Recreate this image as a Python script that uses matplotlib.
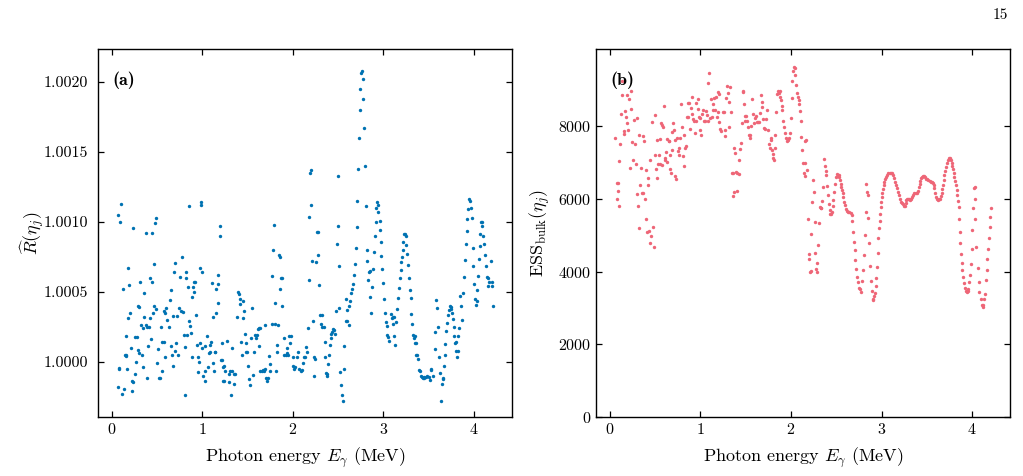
import numpy as np
import matplotlib
matplotlib.use("Agg")
import matplotlib.pyplot as plt
from matplotlib.ticker import FormatStrFormatter

plt.rcParams['font.family'] = 'serif'
plt.rcParams['font.serif'] = ['cmr10']
plt.rcParams['mathtext.fontset'] = 'cm'
plt.rcParams['axes.formatter.use_mathtext'] = True

# (a) R-hat per energy bin
E_a = [0.066, 0.073, 0.08, 0.083, 0.095, 0.106, 0.114, 0.125, 0.132, 0.15, 0.154, 0.158, 0.162, 0.168,
       0.176, 0.18, 0.19, 0.2, 0.21, 0.22, 0.228, 0.234, 0.238, 0.255, 0.26, 0.27, 0.278, 0.29, 0.292,
       0.3, 0.305, 0.31, 0.325, 0.33, 0.34, 0.35, 0.355, 0.36, 0.374, 0.38, 0.385, 0.39, 0.4, 0.41,
       0.42, 0.425, 0.43, 0.44, 0.45, 0.46, 0.465, 0.47, 0.48, 0.487, 0.494, 0.505, 0.516, 0.525,
       0.532, 0.54, 0.55, 0.557, 0.575, 0.578, 0.586, 0.59, 0.6, 0.615, 0.63, 0.64, 0.65, 0.652,
       0.663, 0.674, 0.68, 0.69, 0.696, 0.7, 0.712, 0.72, 0.736, 0.747, 0.758, 0.762, 0.776, 0.784,
       0.795, 0.806, 0.81, 0.817, 0.824, 0.835, 0.842, 0.85, 0.857, 0.868, 0.875, 0.883, 0.89, 0.9,
       0.905, 0.912, 0.923, 0.93, 0.938, 0.949, 0.957, 0.963, 0.97, 0.978, 0.985, 0.99, 0.995, 0.998,
       1.01, 1.026, 1.03, 1.035, 1.05, 1.06, 1.07, 1.08, 1.088, 1.095, 1.11, 1.12, 1.122, 1.132,
       1.135, 1.145, 1.148, 1.156, 1.17, 1.172, 1.176, 1.19, 1.2, 1.207, 1.214, 1.216, 1.225, 1.232,
       1.236, 1.245, 1.256, 1.27, 1.29, 1.3, 1.307, 1.315, 1.33, 1.332, 1.345, 1.355, 1.362, 1.38,
       1.392, 1.406, 1.413, 1.42, 1.422, 1.435, 1.446, 1.453, 1.46, 1.472, 1.48, 1.487, 1.498, 1.509,
       1.516, 1.527, 1.535, 1.546, 1.556, 1.567, 1.578, 1.59, 1.6, 1.612, 1.623, 1.63, 1.634, 1.64,
       1.656, 1.667, 1.678, 1.69, 1.696, 1.707, 1.718, 1.729, 1.733, 1.744, 1.751, 1.765, 1.77, 1.78,
       1.79, 1.8, 1.803, 1.81, 1.82, 1.83, 1.835, 1.846, 1.853, 1.86, 1.868, 1.875, 1.88, 1.9, 1.905,
       1.92, 1.93, 1.94, 1.95, 1.96, 1.97, 1.978,
       2.0, 2.004, 2.015, 2.025, 2.044, 2.055, 2.066, 2.085, 2.1, 2.11, 2.12, 2.136, 2.147, 2.158,
       2.17, 2.173, 2.18, 2.188, 2.195, 2.2, 2.21, 2.22, 2.232, 2.236, 2.242, 2.257, 2.268, 2.275,
       2.283, 2.29, 2.302, 2.308, 2.32, 2.324, 2.34, 2.35, 2.36, 2.368, 2.375, 2.379, 2.39, 2.4,
       2.408, 2.419, 2.426, 2.434, 2.445, 2.456, 2.463, 2.478, 2.485, 2.493, 2.5, 2.511, 2.515, 2.526,
       2.533, 2.544, 2.551, 2.562, 2.57, 2.585, 2.592, 2.6, 2.603, 2.618, 2.625, 2.636, 2.643, 2.65,
       2.662, 2.673, 2.688, 2.695, 2.706, 2.713, 2.72, 2.728, 2.739, 2.746, 2.757, 2.765, 2.772, 2.779,
       2.79, 2.798, 2.805, 2.816, 2.824, 2.835, 2.838, 2.849, 2.857, 2.86, 2.875, 2.882, 2.893, 2.904,
       2.915, 2.922, 2.93, 2.937, 2.945, 2.96, 2.967, 2.974, 2.978, 2.985, 2.996, 3.007, 3.015, 3.026,
       3.037, 3.044, 3.055, 3.066, 3.081, 3.096, 3.103, 3.11, 3.118, 3.121, 3.13, 3.137, 3.15, 3.165,
       3.173, 3.184, 3.191, 3.199, 3.206, 3.217, 3.22, 3.228, 3.235, 3.246, 3.254, 3.261, 3.276, 3.283,
       3.294, 3.301, 3.309, 3.32, 3.327, 3.338, 3.346, 3.35, 3.357, 3.364, 3.375, 3.386, 3.397, 3.404,
       3.415, 3.423, 3.434, 3.445, 3.452, 3.467, 3.482, 3.5, 3.511, 3.522, 3.53, 3.548, 3.566, 3.574,
       3.585, 3.595, 3.603, 3.614, 3.621, 3.636, 3.643, 3.654, 3.66, 3.665, 3.676, 3.684, 3.695, 3.702,
       3.709, 3.72, 3.731, 3.742, 3.75, 3.757, 3.765, 3.776, 3.779, 3.787, 3.798, 3.805, 3.816, 3.82,
       3.827, 3.838, 3.849, 3.86, 3.87, 3.879, 3.89, 3.901, 3.908, 3.919, 3.926, 3.938, 3.948, 3.955,
       3.963, 3.974, 3.985, 3.993, 4.004, 4.011, 4.022, 4.03, 4.037, 4.048, 4.055, 4.066, 4.07, 4.081,
       4.088, 4.092, 4.103, 4.114, 4.125, 4.136, 4.147, 4.151, 4.158, 4.162, 4.184, 4.195, 4.2, 4.21]
R_a = [1.00105, 0.999815, 0.99995, 0.999955, 1.00100, 1.00113, 0.99977, 1.00052, 0.99980, 1.00005,
       1.00018, 1.00004, 1.00005, 0.999945, 1.00067, 1.00031, 1.00055, 1.00035, 1.000095, 0.99979,
       0.99986, 1.000955, 0.99985, 1.000175, 0.99991, 1.00000, 1.000175, 1.00040, 1.000085, 1.00039,
       1.00006, 1.00057, 1.00026, 1.00005, 1.00024, 0.99996, 1.00049, 1.00032, 1.00092, 1.00026,
       1.00025, 0.99988, 1.00011, 1.00025, 1.00060, 1.00031, 1.00016, 1.00092, 1.00057, 1.00035,
       1.00070, 1.00040, 1.00099, 1.00103, 1.000375, 0.99999, 1.00009, 0.99988, 0.99988, 1.00025,
       0.99993, 1.00014, 1.00014, 1.00036, 1.00003, 1.00035, 1.00038, 1.00030, 1.00025, 1.00044,
       1.00051, 1.00011, 1.00005, 1.000325, 0.999965, 1.00064, 1.000705, 1.000075, 1.000135, 1.000325,
       1.00005, 1.00038, 1.000605, 1.00036, 1.00075, 1.000355, 1.00019, 0.99976, 1.000105, 1.00060,
       1.00064, 1.00019, 1.000535, 1.00111, 1.00029, 1.000255, 1.000205, 1.000033, 1.00046, 1.00053,
       1.00050, 1.00057, 1.00057, 1.00033, 1.00012, 0.999925, 1.00003, 1.00000, 1.00013, 1.00067,
       1.00114, 1.00112, 1.00064, 1.00010, 0.99990, 0.99986, 1.00011, 0.99993, 1.00018, 0.99996,
       1.00006, 1.00007, 1.00012, 1.00014, 1.00056, 1.00032, 0.99999, 0.99993, 1.00007, 1.00007,
       1.000345, 1.00052, 1.000555, 1.00042, 1.00062, 1.00090, 1.00097, 1.00001, 1.00001, 1.000135,
       0.99996, 0.99986, 0.99997, 0.99986, 0.99993, 1.00015, 0.99991, 0.99985, 0.99993, 0.99976,
       0.99993, 1.00010, 0.99991, 0.99984, 0.99991, 1.00032, 1.00050, 1.00048, 1.00045, 1.00041,
       1.00014, 1.00005, 1.00043, 1.00031, 1.00036, 1.00020, 1.00013, 1.00007, 1.00007, 0.99997,
       0.999875, 0.99983, 1.000165, 1.000385, 0.999905, 1.000065, 1.00019, 1.000165, 1.00019, 1.00023,
       1.00024, 1.00011, 1.00024, 0.99993, 0.99993, 0.99994, 0.99993, 1.00026, 0.99995, 0.99988,
       0.99986, 0.99988, 1.00004, 0.99998, 0.99993, 1.00027, 1.00061, 1.00080, 1.000975, 1.00042,
       1.00027, 0.99993, 1.00012, 1.00007, 1.00026, 1.00076, 1.00075, 1.00052, 1.00060, 1.00060,
       1.00040, 1.000165, 1.00005, 1.00005, 1.00010, 1.00006, 1.00005, 1.00018, 1.00013, 1.00018,
       1.00003, 0.99997, 0.999945, 0.99996, 1.000035, 1.000065, 0.999945, 0.999935, 0.99994, 0.99999,
       1.00003, 1.000033, 1.000107, 1.00007, 1.00024, 1.00058, 1.001035, 1.00135, 1.00137, 1.00112,
       1.00072, 1.00029, 1.00003, 0.99990, 1.00002, 1.000715, 1.000925, 1.000925, 1.000765, 1.000545,
       1.000335, 1.00027, 1.00025, 1.000335, 1.000245, 1.00014, 1.00003, 0.99992, 0.99990, 0.99991,
       0.999985, 1.00005, 1.000115, 1.00017, 1.000195, 1.00021, 1.00023, 1.000225, 1.00020, 1.00036,
       1.00084, 1.00097, 1.00133, 1.000685, 1.00038, 0.999925, 0.999835, 0.99976, 0.99972, 0.99995,
       1.00011, 1.00045, 1.00029, 1.00037, 1.00029, 1.00026, 1.000395, 1.000435, 1.00049, 1.00052,
       1.000555, 1.00062, 1.00070, 1.00081, 1.00096, 1.00115, 1.00138, 1.00160, 1.00180, 1.00195,
       1.00206, 1.00208, 1.00202, 1.00188, 1.00167, 1.00140, 1.00111, 1.00080, 1.00072, 1.000585,
       1.00064, 1.00065, 1.00046, 1.000345, 1.00053, 1.00066, 1.000785, 1.00090, 1.00100, 1.001095,
       1.00114, 1.00112, 1.00107, 1.001005, 1.00094, 1.000855, 1.000755, 1.00066, 1.00056, 1.00045,
       1.00035, 1.00028, 1.000255, 1.00019, 1.000175, 1.00015, 1.00034, 1.00031, 1.000265, 1.000315,
       1.00032, 1.000185, 1.00012, 1.000285, 1.000375, 1.000455, 1.000525, 1.000600, 1.000655, 1.00071,
       1.00075, 1.00080, 1.000855, 1.00091, 1.00091, 1.00090, 1.000835, 1.00077, 1.00069, 1.00060,
       1.00051, 1.000455, 1.00034, 1.00027, 1.00019, 1.00017, 1.00018, 1.00013, 1.00013, 1.00005,
       1.00005, 1.00002, 0.99994, 0.99993, 0.99990, 0.99989, 0.99988, 0.99988, 0.99989, 0.99989,
       0.99990, 0.99989, 0.99987, 0.99994, 0.99995, 0.99990, 1.00009, 1.00021, 1.00044, 1.000385,
       1.000245, 1.000035, 0.999915, 0.99972, 0.99984, 0.999875, 0.99988, 0.999965, 1.00005, 1.000125,
       1.000215, 1.000275, 1.00033, 1.00037, 1.000395, 1.00039, 1.000375, 1.00035, 1.000305, 1.000245,
       1.000185, 1.00013, 1.00014, 1.000075, 1.00003, 1.000075, 1.000185, 1.00024, 1.00047, 1.000395,
       1.00030, 1.00049, 1.000605, 1.000725, 1.00084, 1.000935, 1.00102, 1.00109, 1.00116, 1.00115,
       1.00110, 1.00103, 1.00081, 1.000685, 1.000555, 1.00045, 1.000405, 1.00043, 1.00051, 1.000615,
       1.00073, 1.000825, 1.000915, 1.00100, 1.000995, 1.00097, 1.00090, 1.00084, 1.00076, 1.00068,
       1.000605, 1.00054, 1.000595, 1.00057, 1.00072, 1.00057, 1.00054, 1.00040]

# (b) bulk ESS per energy bin
E_b = [0.055, 0.074, 0.08, 0.085, 0.088, 0.096, 0.103, 0.114, 0.12, 0.13, 0.136, 0.155, 0.158, 0.166,
       0.177, 0.184, 0.19, 0.2, 0.206, 0.217, 0.228, 0.236, 0.247, 0.254, 0.265, 0.273, 0.287, 0.3,
       0.302, 0.313, 0.32, 0.324, 0.335, 0.343, 0.35, 0.36, 0.368, 0.372, 0.383, 0.394, 0.4, 0.41,
       0.416, 0.423, 0.43, 0.438, 0.445, 0.452, 0.464, 0.471, 0.482, 0.494, 0.497, 0.508, 0.516, 0.52,
       0.53, 0.54, 0.55, 0.557, 0.567, 0.575, 0.578, 0.59, 0.6, 0.603, 0.61, 0.622, 0.633, 0.634,
       0.648, 0.656, 0.66, 0.667, 0.674, 0.68, 0.69, 0.696, 0.703, 0.714, 0.722, 0.733, 0.744, 0.751,
       0.759, 0.766, 0.773, 0.785, 0.8, 0.806, 0.814, 0.82, 0.832, 0.843, 0.85, 0.862, 0.866, 0.876,
       0.888, 0.895, 0.902, 0.91, 0.917, 0.928, 0.94, 0.947, 0.954, 0.969, 0.976, 0.983, 0.99, 1.0,
       1.01, 1.02, 1.031, 1.039, 1.05, 1.057, 1.068, 1.079, 1.087, 1.098, 1.109, 1.116, 1.123, 1.134,
       1.142, 1.153, 1.164, 1.168, 1.182, 1.19, 1.197, 1.2, 1.208, 1.219, 1.23, 1.245, 1.256, 1.267,
       1.274, 1.282, 1.293, 1.304, 1.315, 1.319, 1.326, 1.337, 1.344, 1.355, 1.359, 1.366, 1.37, 1.38,
       1.388, 1.403, 1.407, 1.421, 1.429, 1.44, 1.447, 1.458, 1.466, 1.473, 1.477, 1.488, 1.495, 1.499,
       1.51, 1.521, 1.532, 1.543, 1.55, 1.561, 1.569, 1.576, 1.587, 1.602, 1.613, 1.624, 1.635, 1.646,
       1.653, 1.668, 1.675, 1.683, 1.69, 1.7, 1.712, 1.723, 1.734, 1.745, 1.753, 1.764, 1.775, 1.782,
       1.79, 1.797, 1.804, 1.811, 1.819, 1.826, 1.838, 1.845, 1.856, 1.867, 1.875, 1.882, 1.889, 1.897,
       1.904, 1.915, 1.922, 1.93, 1.945, 1.956, 1.967, 1.978, 1.989, 2.0, 2.007, 2.015, 2.026, 2.033,
       2.04, 2.048, 2.059, 2.07, 2.077, 2.085, 2.092, 2.1, 2.107, 2.114, 2.125, 2.129, 2.14, 2.151,
       2.154, 2.158, 2.169, 2.18, 2.188, 2.195, 2.203, 2.21, 2.217, 2.221, 2.232, 2.239, 2.25, 2.262,
       2.269, 2.28, 2.287, 2.291, 2.298, 2.309, 2.317, 2.328, 2.335, 2.343, 2.35, 2.361, 2.372, 2.383,
       2.39, 2.401, 2.409, 2.416, 2.427, 2.435, 2.446, 2.457, 2.464, 2.468, 2.475, 2.483, 2.494, 2.505,
       2.516, 2.527, 2.534, 2.541, 2.549, 2.556, 2.564, 2.571, 2.578, 2.586, 2.593, 2.608, 2.619, 2.634,
       2.645, 2.659, 2.67, 2.678, 2.685, 2.696, 2.703, 2.711, 2.722, 2.729, 2.74, 2.751, 2.759, 2.77,
       2.788, 2.796, 2.803, 2.814, 2.825, 2.832, 2.84, 2.847, 2.851, 2.862, 2.869, 2.88, 2.891, 2.902,
       2.91, 2.913, 2.924, 2.936, 2.943, 2.95, 2.958, 2.965, 2.972, 2.98, 2.987, 2.991, 2.998, 3.002,
       3.009, 3.017, 3.024, 3.031, 3.042, 3.053, 3.064, 3.075, 3.09, 3.101, 3.112, 3.123, 3.134, 3.148,
       3.159, 3.17, 3.181, 3.192, 3.203, 3.214, 3.225, 3.236, 3.247, 3.258, 3.266, 3.273, 3.284, 3.295,
       3.306, 3.317, 3.328, 3.339, 3.351, 3.362, 3.376, 3.391, 3.402, 3.413, 3.421, 3.428, 3.439, 3.45,
       3.461, 3.472, 3.483, 3.494, 3.506, 3.517, 3.531, 3.546, 3.557, 3.568, 3.576, 3.583, 3.594, 3.605,
       3.616, 3.627, 3.638, 3.649, 3.657, 3.664, 3.672, 3.679, 3.686, 3.694, 3.701, 3.708, 3.72, 3.731,
       3.742, 3.753, 3.76, 3.768, 3.775, 3.782, 3.79, 3.797, 3.804, 3.812, 3.819, 3.827, 3.834, 3.841,
       3.849, 3.856, 3.863, 3.871, 3.878, 3.886, 3.893, 3.9, 3.908, 3.919, 3.93, 3.941, 3.952, 3.959,
       3.97, 3.978, 3.985, 3.993, 4.0, 4.007, 4.015, 4.026, 4.029, 4.033, 4.044, 4.059, 4.07, 4.077,
       4.092, 4.103, 4.114, 4.125, 4.133, 4.14, 4.151, 4.162, 4.169, 4.18, 4.188, 4.192, 4.199, 4.206]
ESS_b = [7660, 5980, 6430, 6430, 6220, 7030, 5810, 7500, 8330, 8850, 9210, 7850, 7770, 8390,
         8240, 8080, 8850, 7880, 8740, 6850, 8460, 8960, 7540, 7070, 8160, 7510, 6960, 6120,
         8220, 5800, 7750, 5190, 6360, 6840, 6160, 7720, 6160, 7570, 6000, 5440, 6770, 5080,
         6570, 6380, 5100, 7050, 4770, 4970, 8100, 5220, 4680, 7200, 8300, 6810, 7610, 6560,
         6940, 7200, 6940, 7630, 8080, 8030, 6930, 7960, 8550, 7070, 7100, 7270, 6990, 7620,
         7570, 7590, 7190, 6820, 6690, 7340, 7830, 8080, 7890, 7600, 6620, 6540, 7660, 7300,
         7390, 7190, 7660, 8590, 7970, 7180, 6890, 7730, 7400, 7430, 8230, 8240, 8610, 8630,
         7910, 8480, 8790, 8310, 8190, 8120, 7790, 8120, 8610, 8450, 8720, 8250, 8200, 7870,
         7740, 8330, 8440, 8120, 8120, 8390, 8290, 8120, 9160, 9450, 8210, 8720, 8250, 8590,
         8440, 8750, 8420, 8780, 8230, 8930, 8380, 8880, 8100, 7920, 7840, 8360, 8380, 7710,
         7870, 8770, 9090, 8900, 8650, 7960, 9060, 8380, 6710, 6080, 6700, 6190, 7400, 7240,
         6740, 6690, 6200, 6670, 7060, 7360, 7520, 8070, 8910, 8950, 8600, 8260, 8130, 8260,
         8130, 7970, 7750, 7660, 7750, 7980, 8730, 8310, 8060, 8220, 8270, 8090, 8090, 8090,
         8340, 8840, 8650, 8510, 8170, 7940, 7900, 8190, 8420, 7880, 7490, 7390, 7600, 7660,
         7330, 7230, 7100, 7050, 7380, 7730, 8380, 8860, 8950, 8890, 8960, 8780, 8690, 8540,
         8430, 8130, 7960, 7800, 7670, 7570, 7600, 7660, 7810, 8220, 8750, 9210, 9510, 9600,
         9580, 9390, 9120, 8900, 8780, 8690, 8590, 8400, 8120, 7700, 7320, 6970, 6710, 6970,
         6610, 7570, 7600, 6770, 5440, 4470, 4350, 3980, 4020, 5020, 5910, 6510, 6180, 5370,
         4520, 4080, 3990, 4230, 4740, 5340, 5780, 5750, 5730, 5930, 6310, 7080, 6900, 6750,
         6640, 6340, 6090, 5860, 5700, 5590, 5580, 5640, 5790, 5960, 6190, 6400, 6600, 6670,
         6660, 6660, 6580, 6500, 6410, 6320, 6240, 6140, 6030, 5910, 5820, 5710, 5670, 5640,
         5640, 5610, 5540, 5380, 5090, 4820, 4590, 4320, 4060, 3850, 3710, 3560, 3520, 3430,
         3750, 4040, 4440, 4990, 5620, 6400, 6180, 6100, 5480, 4770, 4160, 3750, 3480, 3260,
         3230, 3320, 3420, 3610, 3820, 4120, 4520, 4910, 5180, 5390, 5590, 5770, 5910, 6050,
         6160, 6260, 6360, 6450, 6530, 6600, 6650, 6690, 6705, 6710, 6700, 6640, 6560, 6460,
         6370, 6280, 6190, 6090, 6000, 5910, 5870, 5850, 5810, 5810, 5890, 5960, 6000, 6000,
         5980, 5960, 6000, 6050, 6100, 6140, 6140, 6140, 6210, 6320, 6410, 6490, 6560, 6600,
         6610, 6610, 6580, 6550, 6530, 6500, 6490, 6460, 6450, 6430, 6370, 6280, 6160, 6050,
         6000, 5960, 5980, 6000, 6070, 6140, 6250, 6370, 6500, 6640, 6760, 6870, 6980, 7050,
         7100, 7105, 7090, 7050, 6980, 6890, 6800, 6700, 6600, 6490, 6360, 6230, 6100, 5940,
         5780, 5430, 5080, 4770, 4480, 4230, 4030, 3840, 3680, 3560, 3470, 3430, 3480, 3530,
         3700, 3910, 4210, 4620, 5130, 5750, 6290, 5430, 6320, 6000, 4680, 4090, 3700, 3430,
         3240, 3090, 3040, 3090, 3240, 3390, 3770, 4040, 4340, 4630, 4930, 5230, 5500, 5730]

blue = '#0072b2'
red = '#ee6677'

fig = plt.figure(figsize=(10.23, 4.76), dpi=100)
ax1 = fig.add_axes([0.0955, 0.123, 0.405, 0.774])
ax2 = fig.add_axes([0.5825, 0.123, 0.405, 0.774])

ax1.scatter(E_a, R_a, s=6, color=blue, linewidths=0, zorder=3)
ax2.scatter(E_b, ESS_b, s=6, color=red, linewidths=0, zorder=3)

ax1.set_xlim(-0.155, 4.42)
ax1.set_ylim(0.99960, 1.002235)
ax1.set_yticks([1.0000, 1.0005, 1.0010, 1.0015, 1.0020])
ax1.yaxis.set_major_formatter(FormatStrFormatter('%.4f'))
ax1.set_ylabel(r'$\widehat{R}(\eta_j)$', fontsize=13)
ax1.yaxis.set_label_coords(-0.124, 0.5)

ax2.set_xlim(-0.155, 4.42)
ax2.set_ylim(0, 10100)
ax2.set_yticks([0, 2000, 4000, 6000, 8000])
ax2.set_ylabel(r'$\mathrm{ESS}_{\mathrm{bulk}}(\eta_j)$', fontsize=13)

for ax, tag in [(ax1, '(a)'), (ax2, '(b)')]:
    ax.set_xticks([0, 1, 2, 3, 4])
    ax.set_xlabel(r'Photon energy $E_\gamma$ (MeV)', fontsize=13, labelpad=6)
    ax.tick_params(direction='in', top=True, right=True, length=4, width=0.9, labelsize=11.5)
    for sp in ax.spines.values():
        sp.set_linewidth(1.0)
    ax.text(0.035, 0.915, tag, transform=ax.transAxes, fontsize=13, family='cmb10', va='center')

ax1.tick_params(axis='y', pad=7)

fig.text(0.985, 0.968, '15', fontsize=11, ha='right', va='center')

fig.savefig('out.png', dpi=100)
